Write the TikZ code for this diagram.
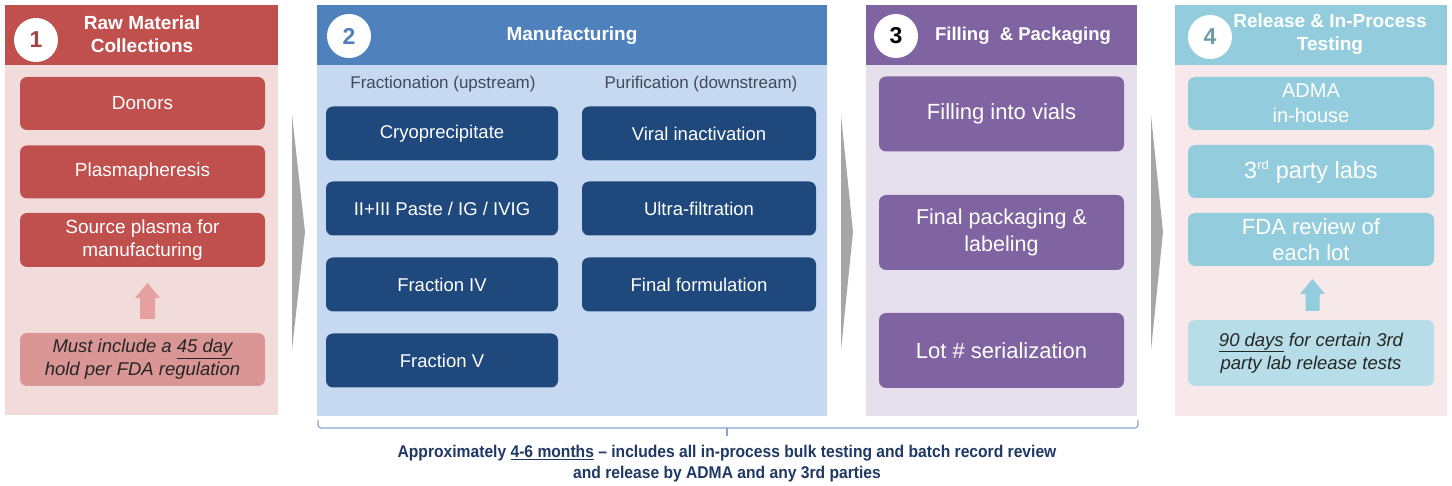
\documentclass[tikz,border=0pt]{standalone}
\usepackage{fontspec}
\setmainfont{Liberation Sans}
\newfontfamily\condfont[FakeStretch=0.92,Ligatures=TeX]{Liberation Sans}
\usetikzlibrary{shapes.geometric}
\definecolor{redH}{HTML}{C0504D}
\definecolor{redB}{HTML}{F2DCDB}
\definecolor{redN}{HTML}{D99694}
\definecolor{redA}{HTML}{E6A09E}
\definecolor{blueH}{HTML}{4F81BD}
\definecolor{blueB}{HTML}{C6D9F1}
\definecolor{blueX}{HTML}{1F497D}
\definecolor{purH}{HTML}{8064A2}
\definecolor{purB}{HTML}{E5E0EC}
\definecolor{tealH}{HTML}{93CDDD}
\definecolor{tealB}{HTML}{F7E8E9}
\definecolor{tealN}{HTML}{B7DEE8}
\definecolor{navy}{HTML}{1F3864}
\definecolor{subg}{HTML}{404A5A}
\definecolor{chev}{HTML}{A6A6A6}
\begin{document}
\begin{tikzpicture}[x=1pt,y=-1pt,
  stepbox/.style={rounded corners=7pt, inner sep=0pt, align=center, text=white, font=\fontsize{19}{23}\selectfont},
  numcirc/.style={circle, fill=white, minimum size=44pt, inner sep=0pt, font=\fontsize{23}{23}\selectfont\bfseries},
  headtxt/.style={text=white, align=center, font=\fontsize{19}{23}\selectfont\bfseries},
  notebox/.style={rounded corners=7pt, inner sep=0pt, align=center, text=black!85, font=\fontsize{18.5}{23}\selectfont\itshape},
  chevron/.style={fill=chev}
]
\useasboundingbox (0,0) rectangle (1452,486);
\fill[white] (0,0) rectangle (1452,486);

% ---------- panel 1 ----------
\fill[redB] (5,5) rectangle (278,415);
\fill[redH] (5,5) rectangle (278,65);
\node[numcirc, text=redH!85!black] (c1) at (36,40) {1};
\node[headtxt] (h1) at (142,34) {Raw Material\\Collections};
\node[stepbox, fill=redH, minimum width=245pt, minimum height=53pt] (p1a) at (142.5,103.5) {Donors};
\node[stepbox, fill=redH, minimum width=245pt, minimum height=53pt] (p1b) at (142.5,172) {Plasmapheresis};
\node[stepbox, fill=redH, minimum width=245pt, minimum height=54pt] (p1c) at (142.5,240) {Source plasma for\\manufacturing};
\node[notebox, fill=redN, minimum width=245pt, minimum height=53pt] (p1n) at (142.5,359.5) {Must include a \underline{45 day}\\hold per FDA regulation};
\fill[redA] (140,319) -- (140,298) -- (135,298) -- (147.5,283) -- (160,298) -- (155,298) -- (155,319) -- cycle;

% ---------- panel 2 ----------
\fill[blueB] (317,5) rectangle (827,416);
\fill[blueH] (317,5) rectangle (827,65);
\node[numcirc, text=blueH] (c2) at (349,36) {2};
\node[headtxt] (h2) at (572,36) {Manufacturing};
\node[text=subg, font=\fontsize{17}{20}\selectfont] (s2a) at (443,84) {Fractionation (upstream)};
\node[text=subg, font=\fontsize{17}{20}\selectfont] (s2b) at (701,84) {Purification (downstream)};
\node[stepbox, fill=blueX, minimum width=232pt, minimum height=54pt, font=\fontsize{18.5}{22}\selectfont] (m1) at (442,133.5) {Cryoprecipitate};
\node[stepbox, fill=blueX, minimum width=232pt, minimum height=54pt, font=\fontsize{18.5}{22}\selectfont] (m2) at (442,208.5) {II+III Paste / IG / IVIG};
\node[stepbox, fill=blueX, minimum width=232pt, minimum height=54pt, font=\fontsize{18.5}{22}\selectfont] (m3) at (442,284.5) {Fraction IV};
\node[stepbox, fill=blueX, minimum width=232pt, minimum height=54pt, font=\fontsize{18.5}{22}\selectfont] (m4) at (442,360.5) {Fraction V};
\node[stepbox, fill=blueX, minimum width=234pt, minimum height=54pt, font=\fontsize{18.5}{22}\selectfont] (m5) at (699,133.5) {Viral inactivation};
\node[stepbox, fill=blueX, minimum width=234pt, minimum height=54pt, font=\fontsize{18.5}{22}\selectfont] (m6) at (699,208.5) {Ultra-filtration};
\node[stepbox, fill=blueX, minimum width=234pt, minimum height=54pt, font=\fontsize{18.5}{22}\selectfont] (m7) at (699,284.5) {Final formulation};

% ---------- panel 3 ----------
\fill[purB] (866,5) rectangle (1137,416);
\fill[purH] (866,5) rectangle (1137,65);
\node[numcirc, text=black] (c3) at (896,36) {3};
\node[headtxt, font=\fontsize{18.5}{22}\selectfont\bfseries] (h3) at (1023,36) {Filling~ \& Packaging};
\node[stepbox, fill=purH, minimum width=245pt, minimum height=75pt, font=\fontsize{22}{26}\selectfont] (f1) at (1001.5,114) {Filling into vials};
\node[stepbox, fill=purH, minimum width=245pt, minimum height=75pt, font=\fontsize{21.5}{27}\selectfont] (f2) at (1001.5,232.5) {Final packaging \&\\labeling};
\node[stepbox, fill=purH, minimum width=245pt, minimum height=75pt, font=\fontsize{22}{26}\selectfont] (f3) at (1001.5,350.5) {Lot \# serialization};

% ---------- panel 4 ----------
\fill[tealB] (1175,5) rectangle (1447,416);
\fill[tealH] (1175,5) rectangle (1447,65);
\node[numcirc, text=tealH!75!black] (c4) at (1210,37) {4};
\node[headtxt] (h4) at (1330,34) {Release \& In-Process\\Testing};
\node[stepbox, fill=tealH, minimum width=246pt, minimum height=53pt, font=\fontsize{20}{25}\selectfont] (t1) at (1311,103.5) {ADMA\\in-house};
\node[stepbox, fill=tealH, minimum width=246pt, minimum height=53pt, font=\fontsize{23.5}{26}\selectfont] (t2) at (1311,171.5) {3\textsuperscript{\fontsize{13}{13}\selectfont rd} party labs};
\node[stepbox, fill=tealH, minimum width=246pt, minimum height=53pt, font=\fontsize{22}{26}\selectfont] (t3) at (1311,239.5) {FDA review of\\each lot};
\node[notebox, fill=tealN, minimum width=246pt, minimum height=66pt] (t4) at (1311,353) {\underline{90 days} for certain 3rd\\party lab release tests};
\fill[tealH] (1305.5,311) -- (1305.5,294) -- (1300,294) -- (1312.5,279) -- (1325,294) -- (1319.5,294) -- (1319.5,311) -- cycle;

% ---------- chevrons ----------
\fill[chevron] (292,115) -- (305,232) -- (292,350) -- cycle;
\fill[chevron] (841,115) -- (853,232) -- (841,350) -- cycle;
\fill[chevron] (1151,115) -- (1163,232) -- (1151,350) -- cycle;

% ---------- bracket ----------
\coordinate (bl) at (318,420);
\coordinate (br) at (1138,420);
\coordinate (bm) at (727,428);
\coordinate (bt) at (727,436);
\draw[blueH!70, line width=1.2pt, rounded corners=3pt] (bl) -- (318,428) -- (1138,428) -- (br);
\draw[blueH!70, line width=1.2pt] (bm) -- (bt);
\node[text=navy, align=center, font=\condfont\fontsize{17}{21}\selectfont\bfseries] (note) at (727,463.5) {Approximately \underline{4-6 months} – includes all in-process bulk testing and batch record review\\and release by ADMA and any 3rd parties};
\end{tikzpicture}
\end{document}
